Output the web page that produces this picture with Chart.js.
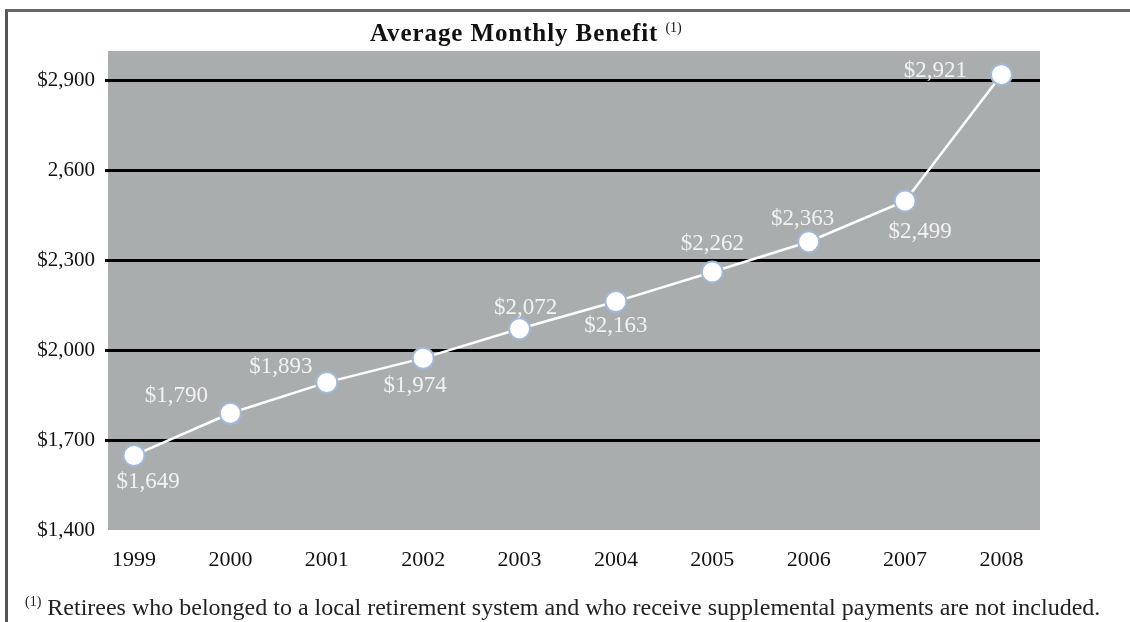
<!DOCTYPE html>
<html>
<head>
<meta charset="utf-8">
<script src="https://cdn.jsdelivr.net/npm/chart.js@4.4.1/dist/chart.umd.min.js"></script>
<style>
    html, body { margin: 0; padding: 0; background: #fff; }
    body { width: 1130px; height: 622px; position: relative; overflow: hidden; font-family: 'Liberation Serif', serif; }
    #frame { position: absolute; left: 5px; top: 9px; width: 1140px; height: 640px; border-top: 3px solid #666; border-left: 3px solid #555; }
    #wrap { position: absolute; left: 0; top: 0; width: 1130px; height: 622px; }
    #title { position: absolute; left: 370px; top: 20px; font-size: 25px; line-height: 25px; font-weight: bold; letter-spacing: 0.9px; color: #111; white-space: nowrap; }
    #note { position: absolute; left: 25px; top: 596px; font-size: 24px; line-height: 23px; color: #222; white-space: nowrap; }
    .sup { font-size: 14px; font-weight: normal; letter-spacing: 0; position: relative; top: -9px; }
</style>
</head>
<body>
<div id="frame"></div>
<div id="wrap"><canvas id="benefit-chart"></canvas></div>
<div id="title">Average Monthly Benefit <span class="sup">(1)</span></div>
<div id="note"><span class="sup">(1)</span> Retirees who belonged to a local retirement system and who receive supplemental payments are not included.</div>

<script>
// Average monthly benefit by year
const years = [1999, 2000, 2001, 2002, 2003, 2004, 2005, 2006, 2007, 2008];
const benefits = [1649, 1790, 1893, 1974, 2072, 2163, 2262, 2363, 2499, 2921];
const benefitLabels = ['$1,649', '$1,790', '$1,893', '$1,974', '$2,072', '$2,163', '$2,262', '$2,363', '$2,499', '$2,921'];

// Y axis ticks as printed
const yTicks = [1400, 1700, 2000, 2300, 2600, 2900];
const yTickLabels = ['$1,400', '$1,700', '$2,000', '$2,300', '2,600', '$2,900'];

// where each value label sits relative to its point (styling only)
const labelOffsets = [[14, 26], [-54, -17], [-46, -15], [-8, 28], [6, -21], [0, 24], [0, -28], [-6, -23], [15, 31], [-66, -4]];

Chart.defaults.font.family = "'Liberation Serif', serif";

// gray plot background
const plotBackground = {
    id: 'plotBackground',
    beforeDraw(chart) {
        const { ctx, chartArea } = chart;
        ctx.save();
        ctx.fillStyle = '#aaadad';
        ctx.fillRect(chartArea.left, chartArea.top, chartArea.right - chartArea.left, chartArea.bottom - chartArea.top);
        ctx.restore();
    }
};

// value labels next to points
const valueLabels = {
    id: 'valueLabels',
    afterDatasetsDraw(chart) {
        const { ctx } = chart;
        const meta = chart.getDatasetMeta(0);
        ctx.save();
        ctx.font = "23px 'Liberation Serif'";
        ctx.fillStyle = '#f2f2f2';
        ctx.textAlign = 'center';
        ctx.textBaseline = 'middle';
        meta.data.forEach((pt, i) => {
            const off = labelOffsets[i];
            ctx.fillText(benefitLabels[i], pt.x + off[0], pt.y + off[1]);
        });
        ctx.restore();
    }
};

const ctx = document.getElementById('benefit-chart').getContext('2d');
new Chart(ctx, {
    type: 'line',
    data: {
        datasets: [{
            data: years.map((yr, i) => ({ x: yr, y: benefits[i] })),
            borderColor: '#ffffff',
            borderWidth: 2.5,
            pointRadius: 10.5,
            pointBorderWidth: 2,
            pointBackgroundColor: '#ffffff',
            pointBorderColor: '#a3b8d8',
            clip: false
        }]
    },
    options: {
        responsive: true,
        maintainAspectRatio: false,
        animation: false,
        layout: { padding: { left: 0, right: 90, top: 51, bottom: 0 } },
        plugins: {
            legend: { display: false },
            tooltip: { enabled: false },
            title: { display: false }
        },
        scales: {
            x: {
                type: 'linear',
                min: 1998.73,
                max: 2008.4,
                border: { display: false },
                grid: { display: false, drawTicks: false },
                afterBuildTicks: scale => { scale.ticks = years.map(v => ({ value: v })); },
                afterFit: scale => { scale.height = 92; },
                ticks: {
                    padding: 17,
                    color: '#111',
                    font: { size: 22 },
                    maxRotation: 0,
                    autoSkip: false,
                    callback: v => String(v)
                }
            },
            y: {
                type: 'linear',
                min: 1400,
                max: 3000,
                border: { display: false },
                grid: {
                    color: c => (c.tick && c.tick.value === 1400) ? 'rgba(0,0,0,0)' : '#000',
                    lineWidth: 3,
                    drawTicks: true,
                    tickLength: 3
                },
                afterBuildTicks: scale => { scale.ticks = yTicks.map(v => ({ value: v })); },
                afterFit: scale => { scale.width = 108; },
                ticks: {
                    padding: 10,
                    color: '#111',
                    font: { size: 21 },
                    autoSkip: false,
                    callback: v => yTickLabels[yTicks.indexOf(v)]
                }
            }
        }
    },
    plugins: [plotBackground, valueLabels]
});
</script>
</body>
</html>
